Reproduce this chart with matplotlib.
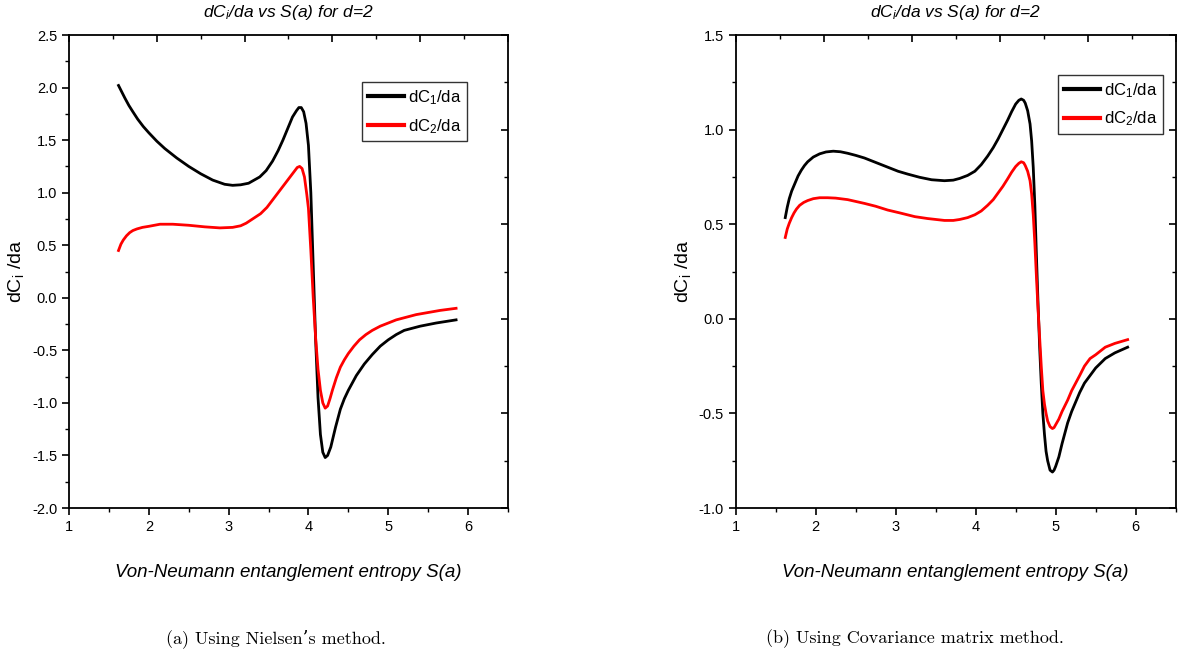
import matplotlib
matplotlib.use("Agg")
import matplotlib.pyplot as plt
from matplotlib import font_manager
from matplotlib.ticker import MultipleLocator

# ----------------------------
# Data
# ----------------------------
# (a) Nielsen's method
s_a_c1 = [1.62, 1.66, 1.70, 1.75, 1.80, 1.86, 1.93, 2.00, 2.10, 2.20, 2.35, 2.50, 2.65,
          2.80, 2.95, 3.05, 3.15, 3.25, 3.32, 3.39, 3.47, 3.55, 3.62, 3.68, 3.74, 3.80,
          3.85, 3.88, 3.91, 3.94, 3.97, 4.00, 4.03, 4.06, 4.09, 4.12, 4.15, 4.18, 4.21,
          4.24, 4.28, 4.34, 4.40, 4.45, 4.50, 4.60, 4.70, 4.80, 4.90, 5.00, 5.10, 5.20,
          5.40, 5.60, 5.85]
dc1_a = [2.02, 1.96, 1.90, 1.83, 1.77, 1.70, 1.63, 1.57, 1.49, 1.42, 1.33, 1.25, 1.18,
         1.12, 1.08, 1.07, 1.075, 1.09, 1.12, 1.15, 1.21, 1.30, 1.40, 1.50, 1.61, 1.72,
         1.78, 1.81, 1.81, 1.77, 1.66, 1.45, 1.00, 0.30, -0.40, -0.95, -1.30, -1.47, -1.52,
         -1.50, -1.42, -1.23, -1.06, -0.96, -0.88, -0.74, -0.63, -0.54, -0.46, -0.40, -0.35,
         -0.31, -0.27, -0.24, -0.21]

s_a_c2 = [1.62, 1.65, 1.68, 1.72, 1.76, 1.80, 1.85, 1.92, 2.00, 2.14, 2.30, 2.50, 2.70,
          2.89, 3.05, 3.15, 3.22, 3.30, 3.40, 3.48, 3.55, 3.62, 3.70, 3.76, 3.82, 3.86,
          3.89, 3.92, 3.95, 3.98, 4.00, 4.03, 4.06, 4.09, 4.12, 4.15, 4.18, 4.21, 4.24,
          4.27, 4.30, 4.35, 4.40, 4.45, 4.50, 4.57, 4.64, 4.72, 4.80, 4.90, 5.00, 5.10,
          5.20, 5.35, 5.50, 5.65, 5.85]
dc2_a = [0.45, 0.51, 0.55, 0.59, 0.62, 0.64, 0.655, 0.67, 0.68, 0.70, 0.70, 0.69, 0.675,
         0.665, 0.67, 0.685, 0.71, 0.75, 0.80, 0.86, 0.93, 1.00, 1.08, 1.14, 1.20, 1.24,
         1.25, 1.23, 1.15, 0.98, 0.85, 0.45, 0.00, -0.38, -0.68, -0.88, -1.00, -1.05, -1.03,
         -0.96, -0.88, -0.76, -0.66, -0.59, -0.53, -0.46, -0.40, -0.35, -0.31, -0.27, -0.24,
         -0.21, -0.19, -0.16, -0.14, -0.12, -0.10]

# (b) Covariance matrix method
s_b_c1 = [1.62, 1.645, 1.67, 1.70, 1.74, 1.78, 1.82, 1.86, 1.90, 1.97, 2.05, 2.13, 2.22,
          2.31, 2.40, 2.50, 2.61, 2.73, 2.85, 3.03, 3.15, 3.30, 3.45, 3.61, 3.72, 3.80,
          3.90, 3.99, 4.07, 4.15, 4.22, 4.28, 4.34, 4.40, 4.45, 4.50, 4.54, 4.57, 4.60,
          4.62, 4.65, 4.68, 4.70, 4.72, 4.74, 4.76, 4.78, 4.80, 4.82, 4.84, 4.86, 4.88,
          4.90, 4.93, 4.96, 4.98, 5.00, 5.04, 5.08, 5.15, 5.20, 5.25, 5.30, 5.36, 5.43,
          5.50, 5.62, 5.74, 5.90]
dc1_b = [0.535, 0.59, 0.635, 0.675, 0.715, 0.755, 0.785, 0.81, 0.83, 0.855, 0.872, 0.882,
         0.886, 0.883, 0.875, 0.864, 0.85, 0.83, 0.81, 0.78, 0.765, 0.748, 0.735, 0.73,
         0.733, 0.742, 0.758, 0.78, 0.815, 0.86, 0.905, 0.95, 1.0, 1.05, 1.095, 1.135, 1.155,
         1.162, 1.155, 1.14, 1.10, 1.03, 0.94, 0.80, 0.60, 0.33, 0.08, -0.15, -0.34, -0.50,
         -0.61, -0.70, -0.75, -0.80, -0.81, -0.80, -0.78, -0.73, -0.66, -0.55, -0.49, -0.44,
         -0.39, -0.34, -0.30, -0.26, -0.21, -0.18, -0.15]

s_b_c2 = [1.62, 1.645, 1.67, 1.70, 1.73, 1.76, 1.80, 1.85, 1.90, 1.97, 2.05, 2.15, 2.25,
          2.40, 2.61, 2.75, 2.90, 3.05, 3.24, 3.40, 3.61, 3.72, 3.80, 3.90, 3.99, 4.07,
          4.15, 4.22, 4.28, 4.34, 4.40, 4.45, 4.50, 4.54, 4.57, 4.60, 4.62, 4.65, 4.68,
          4.70, 4.72, 4.74, 4.76, 4.78, 4.80, 4.82, 4.84, 4.86, 4.88, 4.90, 4.93, 4.96,
          4.98, 5.00, 5.04, 5.08, 5.15, 5.20, 5.25, 5.30, 5.36, 5.43, 5.50, 5.62, 5.74, 5.90]
dc2_b = [0.43, 0.475, 0.505, 0.535, 0.56, 0.58, 0.60, 0.615, 0.625, 0.635, 0.64, 0.64,
         0.638, 0.63, 0.61, 0.595, 0.575, 0.56, 0.54, 0.53, 0.52, 0.52, 0.525, 0.535, 0.55,
         0.57, 0.60, 0.63, 0.665, 0.70, 0.74, 0.775, 0.805, 0.822, 0.83, 0.825, 0.81, 0.78,
         0.73, 0.66, 0.55, 0.40, 0.22, 0.05, -0.10, -0.25, -0.38, -0.45, -0.50, -0.54, -0.57,
         -0.58, -0.575, -0.56, -0.53, -0.49, -0.43, -0.38, -0.34, -0.30, -0.25, -0.21, -0.19,
         -0.15, -0.13, -0.11]

legend_labels = [r"dC$_1$/da", r"dC$_2$/da"]
captions = ["(a) Using Nielsen\u2019s method.", "(b) Using Covariance matrix method."]

# ----------------------------
# Fonts
# ----------------------------
names = {f.name for f in font_manager.fontManager.ttflist}
sans = "Liberation Sans Narrow" if "Liberation Sans Narrow" in names else "Liberation Sans"
plt.rcParams["font.family"] = [sans, "DejaVu Sans"]
plt.rcParams["mathtext.fontset"] = "custom"
plt.rcParams["mathtext.rm"] = sans
plt.rcParams["mathtext.it"] = sans + ":italic"
plt.rcParams["mathtext.default"] = "regular"

fig = plt.figure(figsize=(11.78, 6.56), dpi=100)

panels = [
    dict(rect=[0.0586, 0.2256, 0.3726, 0.721], ylim=(-2.0, 2.5),
         c1=(s_a_c1, dc1_a), c2=(s_a_c2, dc2_a), leg=(0.667, 0.90), cap_x=0.234),
    dict(rect=[0.6245, 0.2256, 0.3735, 0.721], ylim=(-1.0, 1.5),
         c1=(s_b_c1, dc1_b), c2=(s_b_c2, dc2_b), leg=(0.732, 0.915), cap_x=0.777),
]

for i, p in enumerate(panels):
    ax = fig.add_axes(p["rect"])
    ax.plot(*p["c1"], color="black", lw=2.0, label=legend_labels[0])
    ax.plot(*p["c2"], color="red", lw=2.0, label=legend_labels[1])

    ax.set_xlim(1, 6.5)
    ax.set_ylim(*p["ylim"])
    ax.xaxis.set_major_locator(MultipleLocator(1))
    ax.xaxis.set_minor_locator(MultipleLocator(0.5))
    ax.yaxis.set_major_locator(MultipleLocator(0.5))
    ax.yaxis.set_minor_locator(MultipleLocator(0.25))
    ax.yaxis.set_major_formatter(plt.FuncFormatter(lambda v, _: f"{v:.1f}"))
    ax.tick_params(which="both", direction="out", top=False, right=False, labelsize=10.5)
    ax.tick_params(which="major", length=5, width=1.2)
    ax.tick_params(which="minor", length=3, width=1.0)
    for sp in ax.spines.values():
        sp.set_linewidth(1.3)

    # Origin style inner ticks on top / right (own 0-10 scale)
    ov = fig.add_axes(p["rect"], frameon=False)
    ov.set_xlim(0, 10)
    ov.set_ylim(0, 10)
    ov.xaxis.set_major_locator(MultipleLocator(2))
    ov.xaxis.set_minor_locator(MultipleLocator(1))
    ov.yaxis.set_major_locator(MultipleLocator(2))
    ov.yaxis.set_minor_locator(MultipleLocator(1))
    ov.tick_params(which="both", direction="in", top=True, right=True, bottom=False,
                   left=False, labeltop=False, labelright=False, labelbottom=False,
                   labelleft=False)
    ov.tick_params(which="major", length=5, width=1.2)
    ov.tick_params(which="minor", length=3, width=1.0)

    ax.set_title(r"dC$_{\mathit{i}}$/da vs S(a) for d=2", fontstyle="italic", fontsize=12.5,
                 pad=13)
    ax.set_xlabel("Von-Neumann entanglement entropy S(a)", fontstyle="italic", fontsize=13.5,
                  labelpad=22)
    ax.set_ylabel(r"dC$_\mathregular{i}$ /da", fontsize=14, labelpad=4)

    leg = ax.legend(loc="upper left", bbox_to_anchor=p["leg"], fontsize=12, fancybox=False,
                    framealpha=1, edgecolor="#333333", handlelength=2.2, handletextpad=0.2,
                    borderpad=0.35, labelspacing=0.6, borderaxespad=0)
    leg.get_frame().set_linewidth(1.0)
    for h in leg.get_lines():
        h.set_linewidth(3)

    fig.text(p["cap_x"], 0.027, captions[i], family=["cmr10", "DejaVu Serif"], fontsize=13,
             ha="center", va="center")

fig.savefig("out.png", dpi=100)
